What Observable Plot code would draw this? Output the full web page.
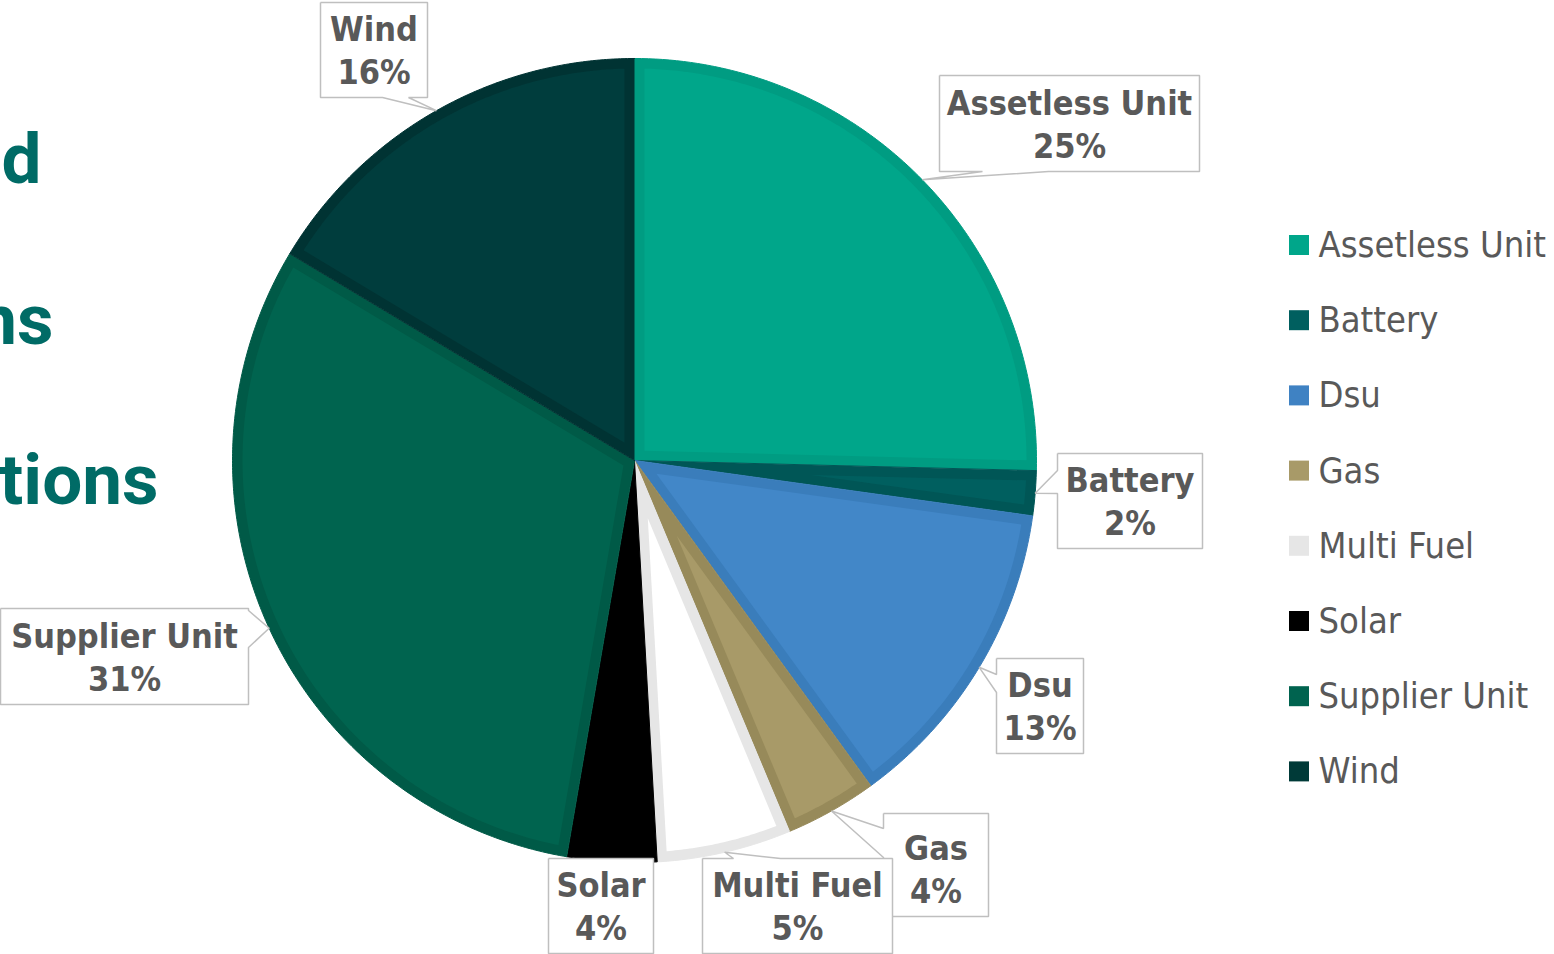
<!DOCTYPE html>
<html>
<head>
<meta charset="utf-8">
<script src="https://cdn.jsdelivr.net/npm/d3@7"></script>
<script src="https://cdn.jsdelivr.net/npm/@observablehq/plot@0.6"></script>
<style>
  html, body { margin: 0; padding: 0; background: #ffffff; overflow: hidden; }
  #chart svg { display: block; }
</style>
</head>
<body>
<div id="chart"></div>
<script>
// ---------- data ----------
const categories = ["Assetless Unit", "Battery", "Dsu", "Gas", "Multi Fuel", "Solar", "Supplier Unit", "Wind"];
const shares = [25.4, 1.8, 12.8, 3.7, 5.4, 3.6, 30.9, 16.4];           // % of total
const percentLabels = ["25%", "2%", "13%", "4%", "5%", "4%", "31%", "16%"];
const sliceFill   = ["#00a68a", "#005f5f", "#4287c8", "#a89a68", "#ffffff", "#000000", "#00644f", "#003d3d"];
const sliceBorder = ["#009c82", "#005656", "#3a7dbb", "#978a5a", "#e6e6e6", "#000000", "#005a47", "#003333"];
const legendColors = ["#00a68a", "#005f5f", "#3f82c3", "#a89a68", "#e6e6e6", "#000000", "#00634f", "#003a38"];
const backgroundFragments = ["d", "ns", "tions"];

// ---------- layout ----------
const W = 1554, H = 954;
const cx = 634, cy = 460, R = 402, BW = 10;
// callout boxes [x1, y1, x2, y2] and the two points where the pointer meets the box
const calloutBoxes = [
  [939, 75, 1199, 171], [1057, 453, 1202, 548], [996, 658, 1083, 753], [883, 813, 988, 916],
  [702, 858, 892, 953], [548, 858, 653, 953], [0, 608, 248, 704], [320, 2, 427, 97]
];
const pointerBases = [
  [[1048, 171], [982, 171]], [[1057, 493], [1057, 470]], [[996, 692], [996, 674]], [[883, 857], [883, 828]],
  [[733, 858], [780, 858]], null, [[248, 610], [248, 647]], [[382, 97], [408, 97]]
];
const fragmentRight = [41, 53, 158];
const fragmentBaseline = [182, 343, 503];
const legendX = 1289, legendY0 = 245, legendStep = 75.2, swatch = 20;

const FONT = "'DejaVu Sans Condensed', 'DejaVu Sans', sans-serif";

// ---------- geometry from data ----------
const arcs = d3.pie().sort(null).value(d => d)(shares);
const pt = (a, r) => [cx + r * Math.sin(a), cy - r * Math.cos(a)];

const outerRows = [], innerRows = [];
arcs.forEach((a, i) => {
  const a0 = a.startAngle, a1 = a.endAngle;
  const n = Math.max(4, Math.ceil((a1 - a0) / (Math.PI / 360)));
  const k = categories[i];
  outerRows.push({k, x: cx, y: cy, color: sliceBorder[i]});
  for (let j = 0; j <= n; j++) {
    const [x, y] = pt(a0 + (a1 - a0) * j / n, R);
    outerRows.push({k, x, y, color: sliceBorder[i]});
  }
  const th = a1 - a0, ri = R - BW;
  const rho0 = BW / Math.sin(th / 2);
  const d = Math.asin(BW / ri);
  const b0 = a0 + d, b1 = a1 - d;
  const [vx, vy] = pt((a0 + a1) / 2, rho0);
  innerRows.push({k, x: vx, y: vy, color: sliceFill[i]});
  for (let j = 0; j <= n; j++) {
    const [x, y] = pt(b0 + (b1 - b0) * j / n, ri);
    innerRows.push({k, x, y, color: sliceFill[i]});
  }
});

// callout shapes: rectangle with a pointer to the slice's mid-angle on the rim
const calloutRows = [];
const calloutText = [];
arcs.forEach((a, i) => {
  const [x1, y1, x2, y2] = calloutBoxes[i];
  const k = categories[i];
  const corners = [[x1, y1], [x2, y1], [x2, y2], [x1, y2]];
  const edges = [
    p => p[1] === y1, p => p[0] === x2, p => p[1] === y2, p => p[0] === x1
  ];
  const tip = pt((a.startAngle + a.endAngle) / 2, R);
  const pts = [];
  for (let e = 0; e < 4; e++) {
    pts.push(corners[e]);
    const base = pointerBases[i];
    if (base && edges[e](base[0]) && edges[e](base[1])) {
      const from = corners[e];
      const dist = p => Math.hypot(p[0] - from[0], p[1] - from[1]);
      const [p, q] = dist(base[0]) < dist(base[1]) ? [base[0], base[1]] : [base[1], base[0]];
      pts.push(p, tip, q);
    }
  }
  pts.push(corners[0]);
  pts.forEach(([x, y]) => calloutRows.push({k, x, y}));
  calloutText.push({x: (x1 + x2) / 2, y: y2 - 14, text: categories[i] + "\n" + percentLabels[i]});
});

const legendRows = categories.map((c, i) => ({
  name: c, color: legendColors[i],
  x1: legendX, x2: legendX + swatch,
  y1: legendY0 + i * legendStep - swatch / 2, y2: legendY0 + i * legendStep + swatch / 2,
  tx: legendX + swatch + 9, ty: legendY0 + i * legendStep
}));

const fragRows = backgroundFragments.map((t, i) => ({t, x: fragmentRight[i], y: fragmentBaseline[i]}));

const chart = Plot.plot({
  width: W, height: H,
  margin: 0,
  x: {domain: [0, W], range: [0, W], axis: null},
  y: {domain: [0, H], range: [0, H], axis: null},
  color: {type: "identity"},
  style: {background: "#ffffff", overflow: "visible"},
  marks: [
    Plot.text(fragRows, {x: "x", y: "y", text: "t", textAnchor: "end", lineAnchor: "bottom",
      fontFamily: "Roboto, 'Open Sans', sans-serif", fontWeight: 700, fontSize: 71, fill: "#006b66"}),
    Plot.line(outerRows, {x: "x", y: "y", z: "k", fill: "color", stroke: "color", strokeWidth: 1, curve: "linear"}),
    Plot.line(innerRows, {x: "x", y: "y", z: "k", fill: "color", stroke: "none", curve: "linear"}),
    Plot.line(calloutRows, {x: "x", y: "y", z: "k", fill: "#ffffff", stroke: "#bfbfbf", strokeWidth: 1.5,
      strokeLinejoin: "miter", strokeLinecap: "butt", curve: "linear"}),
    Plot.text(calloutText, {x: "x", y: "y", text: "text", lineAnchor: "bottom", lineHeight: 1.24,
      fontFamily: FONT, fontWeight: "bold", fontSize: 34, fill: "#595959"}),
    Plot.rect(legendRows, {x1: "x1", x2: "x2", y1: "y1", y2: "y2", fill: "color"}),
    Plot.text(legendRows, {x: "tx", y: "ty", text: "name", textAnchor: "start", lineAnchor: "middle",
      fontFamily: FONT, fontSize: 36, fill: "#595959"})
  ]
});
document.getElementById("chart").append(chart);
</script>
</body>
</html>
